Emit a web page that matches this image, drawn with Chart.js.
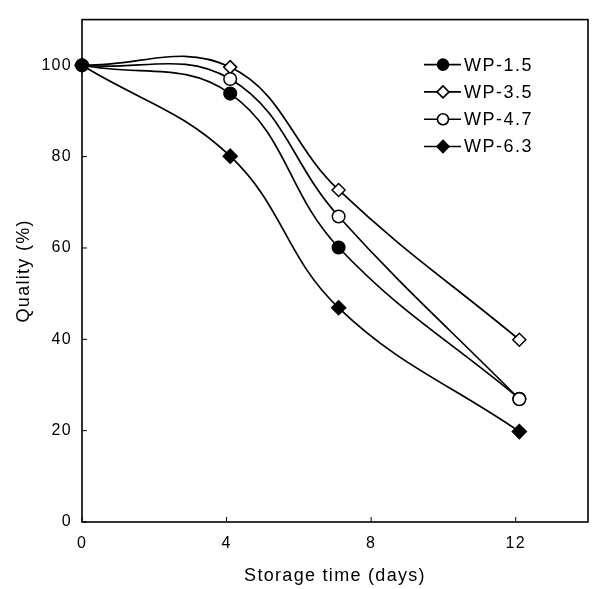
<!DOCTYPE html>
<html lang="en">
<head>
    <meta charset="UTF-8">
    <title>Quality vs storage time</title>
    <script src="https://cdn.jsdelivr.net/npm/chart.js"></script>
    <style>
        body { margin: 0; background: #fff; }
        #wrap { width: 597px; height: 589px; }
    </style>
</head>
<body>
    <div id="wrap"><canvas id="qualityChart"></canvas></div>
    <script>
        // values
        const days = [0, 4.1, 7.1, 12.1];
        const wp15 = [100, 93.8, 60.1, 27.0];
        const wp35 = [100, 99.6, 72.7, 39.9];
        const wp47 = [100, 97.0, 66.9, 26.9];
        const wp63 = [100, 80.1, 46.9, 19.8];
        const seriesLabels = ['WP-1.5', 'WP-3.5', 'WP-4.7', 'WP-6.3'];
        const xTicks = [0, 4, 8, 12];
        const yTicks = [0, 20, 40, 60, 80, 100];

        Chart.defaults.font.family = "'Liberation Sans', Arial, sans-serif";
        Chart.defaults.color = '#000';

        function toPoints(values) {
            return days.map((d, i) => ({ x: d, y: values[i] }));
        }

        function makeSet(label, values, style, filled, order, radius) {
            return {
                label: label,
                data: toPoints(values),
                borderColor: '#000',
                borderWidth: 1.7,
                tension: 0.4,
                pointStyle: style,
                pointRadius: radius,
                pointBackgroundColor: filled ? '#000' : '#fff',
                pointBorderColor: '#000',
                pointBorderWidth: 1.5,
                clip: false,
                order: order
            };
        }

        function drawMarker(ctx, style, filled, x, y, r) {
            ctx.beginPath();
            if (style === 'circle') {
                ctx.arc(x, y, r, 0, Math.PI * 2);
            } else {
                ctx.moveTo(x - r, y);
                ctx.lineTo(x, y - r);
                ctx.lineTo(x + r, y);
                ctx.lineTo(x, y + r);
                ctx.closePath();
            }
            ctx.fillStyle = filled ? '#000' : '#fff';
            ctx.fill();
            ctx.stroke();
        }

        const framePlugin = {
            id: 'frame',
            beforeDraw(chart) {
                chart.ctx.letterSpacing = '1.3px';
            },
            afterDraw(chart) {
                const { ctx, chartArea: a, scales } = chart;
                ctx.save();
                ctx.strokeStyle = '#000';
                ctx.lineWidth = 1.6;
                ctx.strokeRect(a.left, a.top, a.right - a.left, a.bottom - a.top);

                // inward tick marks
                ctx.lineWidth = 1;
                ctx.beginPath();
                xTicks.forEach(v => {
                    const px = scales.x.getPixelForValue(v);
                    ctx.moveTo(px, a.bottom);
                    ctx.lineTo(px, a.bottom - 5);
                });
                yTicks.forEach(v => {
                    const py = scales.y.getPixelForValue(v);
                    ctx.moveTo(a.left, py);
                    ctx.lineTo(a.left + 5, py);
                });
                ctx.stroke();

                // legend inside the plot, top right
                ctx.font = "18px 'Liberation Sans', Arial, sans-serif";
                ctx.letterSpacing = '1.5px';
                ctx.textBaseline = 'middle';
                ctx.textAlign = 'left';
                chart.data.datasets.forEach((ds, i) => {
                    const y = a.top + 45 + i * 27.3;
                    const x0 = a.left + 342;
                    ctx.lineWidth = 1.6;
                    ctx.beginPath();
                    ctx.moveTo(x0, y);
                    ctx.lineTo(x0 + 37, y);
                    ctx.stroke();
                    drawMarker(ctx, ds.pointStyle === 'circle' ? 'circle' : 'diamond',
                        ds.pointBackgroundColor === '#000', x0 + 19, y, ds.pointStyle === 'circle' ? 5.5 : 6);
                    ctx.fillStyle = '#000';
                    ctx.fillText(ds.label, x0 + 40, y + 1);
                });
                ctx.restore();
            }
        };

        const ctx = document.getElementById('qualityChart').getContext('2d');
        const qualityChart = new Chart(ctx, {
            type: 'line',
            data: {
                datasets: [
                    makeSet(seriesLabels[0], wp15, 'circle', true, 1, 6.3),
                    makeSet(seriesLabels[1], wp35, 'rectRot', false, 2, 6.5),
                    // the day-0 open circle sits under the filled one in the source
                    makeSet(seriesLabels[2], wp47, 'circle', false, 0, c => c.dataIndex === 0 ? 0 : 6.3),
                    makeSet(seriesLabels[3], wp63, 'rectRot', true, 3, 7)
                ]
            },
            options: {
                responsive: true,
                maintainAspectRatio: false,
                animation: false,
                layout: { padding: { top: 7, right: 9, left: 0, bottom: 0 } },
                plugins: {
                    legend: { display: false },
                    tooltip: { enabled: false }
                },
                scales: {
                    x: {
                        type: 'linear',
                        min: 0,
                        max: 14,
                        afterBuildTicks: s => { s.ticks = xTicks.map(v => ({ value: v })); },
                        afterFit: s => { s.height = 67; },
                        grid: { display: false, drawTicks: false },
                        border: { display: false },
                        ticks: { font: { size: 16 }, padding: 12, maxRotation: 0, autoSkip: false },
                        title: {
                            display: true,
                            text: 'Storage time (days)',
                            font: { size: 18 },
                            padding: { top: 0, bottom: 2 }
                        }
                    },
                    y: {
                        min: 0,
                        max: 110,
                        afterBuildTicks: s => { s.ticks = yTicks.map(v => ({ value: v })); },
                        afterFit: s => { s.width = 82; },
                        grid: { display: false, drawTicks: false },
                        border: { display: false },
                        ticks: { font: { size: 16 }, padding: 10, autoSkip: false },
                        title: {
                            display: true,
                            text: 'Quality (%)',
                            font: { size: 18 },
                            padding: { top: 13, bottom: 0 }
                        }
                    }
                }
            },
            plugins: [framePlugin]
        });
    </script>
</body>
</html>
